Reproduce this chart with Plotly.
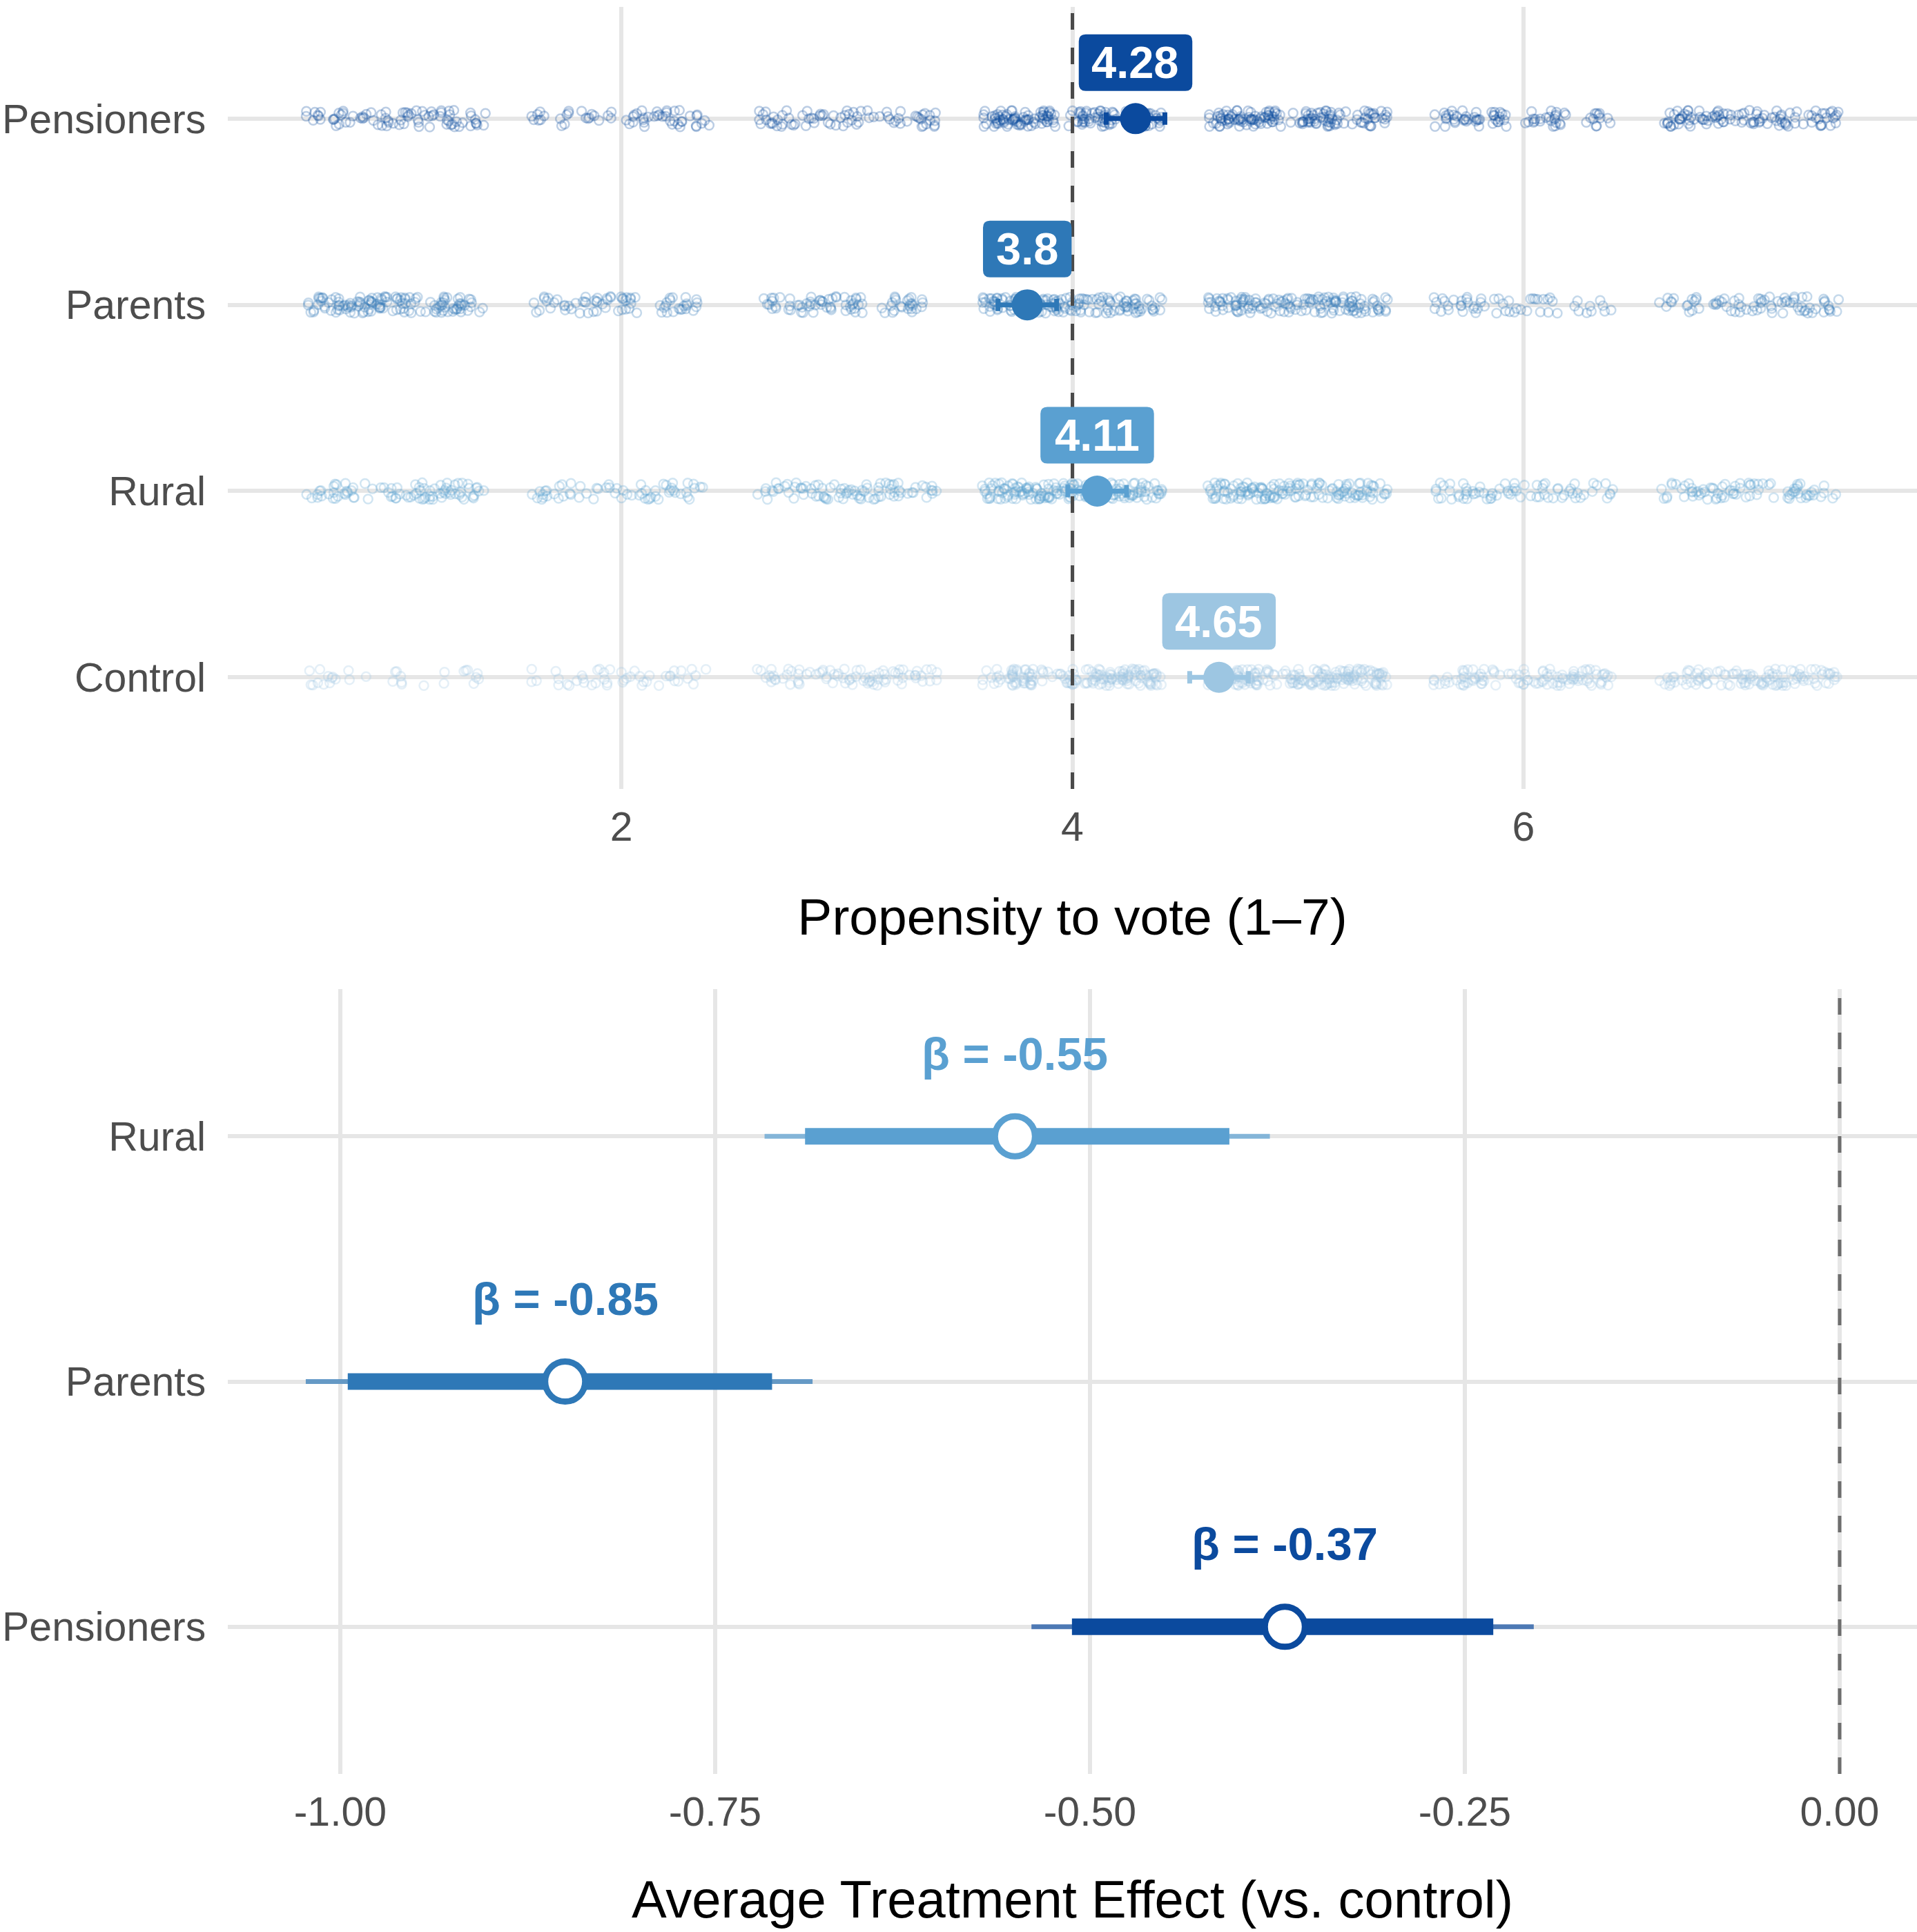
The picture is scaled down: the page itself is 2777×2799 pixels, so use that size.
"""Propensity to vote by treatment group + average treatment effects (two stacked panels)."""
import numpy as np
import plotly.graph_objects as go

W, H = 2777, 2799
FONT = "Liberation Sans, Arial, Helvetica, sans-serif"
GRID = "#E6E6E6"
TICK_GREY = "#4D4D4D"

# ---------------------------------------------------------------------------
# Data
# ---------------------------------------------------------------------------

# top panel, rows listed bottom -> top
groups = ["Control", "Rural", "Parents", "Pensioners"]
group_colors = ["#9DC6E2", "#5AA0D1", "#2E78B7", "#0B4A9E"]
means = [4.65, 4.11, 3.80, 4.28]
mean_labels = ["4.65", "4.11", "3.8", "4.28"]
ci_low = [4.52, 3.98, 3.67, 4.15]
ci_high = [4.78, 4.24, 3.93, 4.41]

# answers per scale point (1..7), rough counts read off the strips
scale_points = [1, 2, 3, 4, 5, 6, 7]
counts_control = [30, 45, 80, 160, 170, 105, 110]
counts_rural = [85, 60, 85, 170, 150, 70, 80]
counts_parents = [130, 70, 80, 150, 140, 55, 75]
counts_pensioners = [80, 60, 75, 150, 150, 80, 105]
group_counts = [counts_control, counts_rural, counts_parents, counts_pensioners]

top_ticks = [2, 4, 6]
top_ref = 4

# bottom panel, rows listed bottom -> top
ate_groups = ["Pensioners", "Parents", "Rural"]
ate_colors = ["#0B4A9E", "#2E78B7", "#5AA0D1"]
ate_est = [-0.37, -0.85, -0.55]
ate_labels = ["β = -0.37", "β = -0.85", "β = -0.55"]
ate_lo95 = [-0.539, -1.023, -0.717]
ate_hi95 = [-0.204, -0.685, -0.380]
ate_lo_in = [-0.512, -0.995, -0.690]
ate_hi_in = [-0.231, -0.712, -0.407]

ate_ticks = [-1.0, -0.75, -0.5, -0.25, 0.0]
ate_ticktext = ["-1.00", "-0.75", "-0.50", "-0.25", "0.00"]
ate_ref = 0

TOP_YRANGE = [-0.6, len(groups) - 0.4]
BOT_YRANGE = [-0.6, len(ate_groups) - 0.4]

LABEL_SIZE = 65
LABEL_LIFT = 81   # px between row and label centre
LABEL_H = 82
LABEL_PAD = 19
LABEL_R = 10


def _rgba(hex_color: str, a: float) -> str:
    h = hex_color.lstrip("#")
    r, g, b = (int(h[i:i + 2], 16) for i in (0, 2, 4))
    return f"rgba({r},{g},{b},{a})"


def _jitter(n: int, offset: int):
    # deterministic quadratic Weyl spread, stands in for position_jitter
    k = (np.arange(1, n + 1) + offset).astype(float)
    u = (k * k * 0.6180339887 + k * 0.3141592654) % 1.0
    v = (k * k * 0.4142135624 + k * 0.7071067812) % 1.0
    return u - 0.5, v - 0.5


def _label_width(text: str) -> float:
    # bold Liberation Sans advance widths (em): digits .556, '.' .278
    em = sum(0.278 if ch == "." else 0.556 for ch in text)
    return em * LABEL_SIZE + 2 * LABEL_PAD


def _round_box(w: float, h: float, lift: float, r: float) -> str:
    x0, x1 = -w / 2, w / 2
    y0, y1 = lift - h / 2, lift + h / 2
    return (f"M{x0 + r},{y0} L{x1 - r},{y0} Q{x1},{y0} {x1},{y0 + r} "
            f"L{x1},{y1 - r} Q{x1},{y1} {x1 - r},{y1} L{x0 + r},{y1} "
            f"Q{x0},{y1} {x0},{y1 - r} L{x0},{y0 + r} Q{x0},{y0} {x0 + r},{y0} Z")


fig = go.Figure()

# ---------------------------------------------------------------------------
# Top panel: raw answers, reference line, means and CIs
# ---------------------------------------------------------------------------

for gi, (name, col, counts) in enumerate(zip(groups, group_colors, group_counts)):
    xs, ys = [], []
    for pi, (val, n) in enumerate(zip(scale_points, counts)):
        dx, dy = _jitter(n, 211 * gi + 37 * pi)
        xs.append(val + 0.8 * dx)
        ys.append(gi + 0.09 * dy)
    fig.add_trace(go.Scatter(
        x=np.concatenate(xs), y=np.concatenate(ys),
        mode="markers",
        marker=dict(symbol="circle-open", size=13, color=_rgba(col, 0.28),
                    line=dict(width=2.5, color=_rgba(col, 0.28))),
        hoverinfo="skip", showlegend=False,
        xaxis="x", yaxis="y",
    ))

fig.add_trace(go.Scatter(
    x=[top_ref, top_ref], y=TOP_YRANGE, mode="lines",
    line=dict(color="#4A4A4A", width=5, dash="24px,26px"),
    hoverinfo="skip", showlegend=False, xaxis="x", yaxis="y",
))

for gi, (name, col) in enumerate(zip(groups, group_colors)):
    fig.add_trace(go.Scatter(
        x=[means[gi]], y=[gi],
        mode="markers",
        marker=dict(size=45, color=col),
        error_x=dict(type="data", symmetric=False,
                     array=[ci_high[gi] - means[gi]],
                     arrayminus=[means[gi] - ci_low[gi]],
                     color=col, thickness=7, width=9),
        name=name, showlegend=False,
        hovertemplate=f"{name}<br>mean=%{{x:.2f}}<extra></extra>",
        xaxis="x", yaxis="y",
    ))
    # rounded label box (pixel-sized, anchored at the mean)
    fig.add_shape(
        type="path", xref="x", yref="y",
        xsizemode="pixel", ysizemode="pixel",
        xanchor=means[gi], yanchor=gi,
        path=_round_box(_label_width(mean_labels[gi]), LABEL_H, LABEL_LIFT, LABEL_R),
        fillcolor=col, line=dict(width=0), layer="above",
    )
    fig.add_annotation(
        x=means[gi], y=gi, xref="x", yref="y", yshift=LABEL_LIFT,
        text=mean_labels[gi], showarrow=False,
        font=dict(family=FONT, size=LABEL_SIZE, color="white", weight="bold"),
    )

# ---------------------------------------------------------------------------
# Bottom panel: treatment effects
# ---------------------------------------------------------------------------

fig.add_trace(go.Scatter(
    x=[ate_ref, ate_ref], y=BOT_YRANGE, mode="lines",
    line=dict(color="#6E6E6E", width=5, dash="24px,26px"),
    hoverinfo="skip", showlegend=False, xaxis="x2", yaxis="y2",
))

for gi, (name, col) in enumerate(zip(ate_groups, ate_colors)):
    fig.add_trace(go.Scatter(
        x=[ate_lo95[gi], ate_hi95[gi]], y=[gi, gi],
        mode="lines", line=dict(color=_rgba(col, 0.7), width=7),
        hoverinfo="skip", showlegend=False, xaxis="x2", yaxis="y2",
    ))
    fig.add_trace(go.Scatter(
        x=[ate_lo_in[gi], ate_hi_in[gi]], y=[gi, gi],
        mode="lines", line=dict(color=col, width=24),
        hoverinfo="skip", showlegend=False, xaxis="x2", yaxis="y2",
    ))
    fig.add_trace(go.Scatter(
        x=[ate_est[gi]], y=[gi],
        mode="markers",
        marker=dict(size=58, color="white", line=dict(color=col, width=9)),
        name=name, showlegend=False,
        hovertemplate=f"{name}<br>ATE=%{{x:.2f}}<extra></extra>",
        xaxis="x2", yaxis="y2",
    ))
    fig.add_annotation(
        x=ate_est[gi], y=gi, xref="x2", yref="y2", yshift=120,
        text=ate_labels[gi], showarrow=False,
        font=dict(family=FONT, size=67, color=col, weight="bold"),
    )

axis_common = dict(
    showline=False, zeroline=False, showgrid=True, gridcolor=GRID, gridwidth=6,
    tickfont=dict(family=FONT, size=59, color=TICK_GREY),
    ticks="outside", tickcolor="rgba(0,0,0,0)",
)

fig.update_layout(
    width=W, height=H,
    paper_bgcolor="white", plot_bgcolor="white",
    margin=dict(l=330, r=0, t=10, b=229),
    font=dict(family=FONT),
    xaxis=dict(
        **axis_common, domain=[0, 1], anchor="y", ticklen=3,
        range=[0.255, 7.745], tickvals=top_ticks,
        title=dict(text="Propensity to vote (1–7)", standoff=71,
                   font=dict(family=FONT, size=75, color="black")),
    ),
    yaxis=dict(
        **axis_common, domain=[0.5574, 1], anchor="x", ticklen=19, range=TOP_YRANGE,
        tickvals=list(range(len(groups))), ticktext=groups,
    ),
    xaxis2=dict(
        **axis_common, domain=[0, 1], anchor="y2", ticklen=3,
        range=[-1.075, 0.0516], tickvals=ate_ticks, ticktext=ate_ticktext,
        title=dict(text="Average Treatment Effect (vs. control)", standoff=68,
                   font=dict(family=FONT, size=76, color="black")),
    ),
    yaxis2=dict(
        **axis_common, domain=[0, 0.4441], anchor="x2", ticklen=19, range=BOT_YRANGE,
        tickvals=list(range(len(ate_groups))), ticktext=ate_groups,
    ),
)

# the page's default 8px body margin would push the figure off its 2777x2799 frame
fig.write_html(
    "out.html",
    config={"displayModeBar": False},
    post_script="document.body.style.margin='0';document.body.style.overflow='hidden';",
)
